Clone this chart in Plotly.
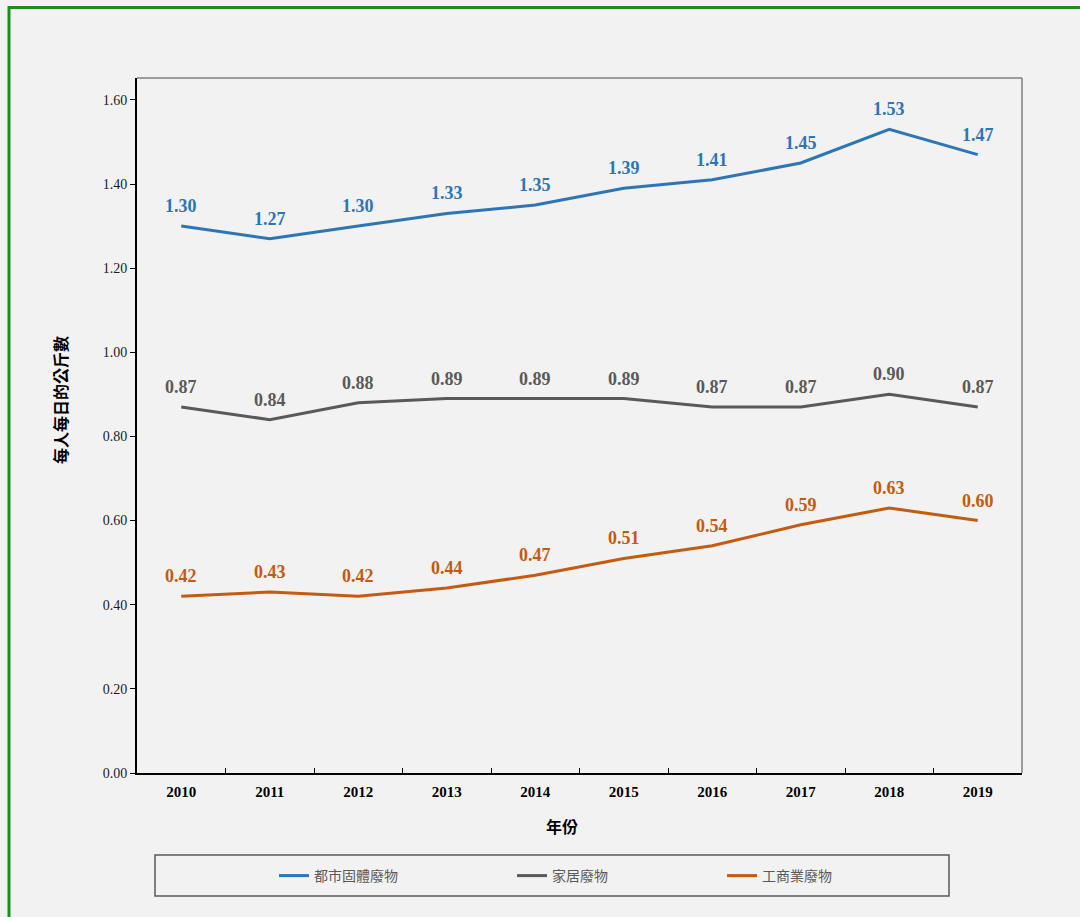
import plotly.graph_objects as go

years = ["2010", "2011", "2012", "2013", "2014", "2015", "2016", "2017", "2018", "2019"]
msw = [1.30, 1.27, 1.30, 1.33, 1.35, 1.39, 1.41, 1.45, 1.53, 1.47]
domestic = [0.87, 0.84, 0.88, 0.89, 0.89, 0.89, 0.87, 0.87, 0.90, 0.87]
commercial = [0.42, 0.43, 0.42, 0.44, 0.47, 0.51, 0.54, 0.59, 0.63, 0.60]
names = ["都市固體廢物", "家居廢物", "工商業廢物"]
colors = ["#2e75b6", "#595959", "#c55a11"]
y_ticks = [0.0, 0.2, 0.4, 0.6, 0.8, 1.0, 1.2, 1.4, 1.6]

W, H = 1080, 917
L, R, T, B = 137, 58, 78, 144
pw, ph = W - L - R, H - T - B

def px(x):
    return (x - L) / pw

def py(y):
    return (H - B - y) / ph

fig = go.Figure()
series = [msw, domestic, commercial]
legends = ["legend", "legend2", "legend3"]
annotations = []
for s, n, c, lg in zip(series, names, colors, legends):
    fig.add_trace(go.Scatter(
        x=years, y=s, name=n, mode="lines",
        line=dict(color=c, width=3),
        legend=lg, cliponaxis=False,
    ))
    for i, yv in enumerate(s):
        annotations.append(dict(
            x=i, y=yv, xref="x", yref="y", text=f"{yv:.2f}", showarrow=False,
            xanchor="center", yanchor="middle", yshift=20,
            font=dict(family="Liberation Serif", size=18, color=c, weight="bold"),
        ))

leg_common = dict(orientation="h", yanchor="middle", xanchor="left",
                  bgcolor="rgba(0,0,0,0)", borderwidth=0,
                  font=dict(family="Noto Sans CJK TC", size=14, color="#595959"))
fig.update_layout(
    width=W, height=H,
    margin=dict(l=L, r=R, t=T, b=B),
    paper_bgcolor="#f2f2f2", plot_bgcolor="#f2f2f2",
    legend=dict(x=px(274), y=py(876), **leg_common),
    legend2=dict(x=px(512), y=py(876), **leg_common),
    legend3=dict(x=px(722), y=py(876), **leg_common),
    xaxis=dict(type="category", categoryorder="array", categoryarray=years,
               range=[-0.5, len(years) - 0.5], autorange=False,
               showgrid=False, showline=True, linecolor="#000000",
               linewidth=2, ticks="inside", tickson="boundaries", ticklen=5,
               tickcolor="#000000", tickwidth=1, tickangle=0, ticklabelstandoff=4,
               tickfont=dict(family="Liberation Serif", size=15, color="#000000", weight="bold")),
    yaxis=dict(range=[0, 1.652], autorange=False, showgrid=False, zeroline=False, showline=True,
               linecolor="#000000", linewidth=2, ticks="outside", ticklen=5,
               tickcolor="#000000", tickwidth=1, tickvals=y_ticks,
               tickformat=".2f",
               tickfont=dict(family="Liberation Serif", size=14, color="#1a1a2e")),
    showlegend=True,
)

shapes = [
    dict(type="line", xref="paper", yref="paper", x0=0, x1=1, y0=1, y1=1,
         line=dict(color="#7f7f7f", width=1.5)),
    dict(type="line", xref="paper", yref="paper", x0=1, x1=1, y0=0, y1=1,
         line=dict(color="#7f7f7f", width=1.5)),
    dict(type="rect", xref="paper", yref="paper", x0=px(155), x1=px(949),
         y0=py(896), y1=py(855), line=dict(color="#595959", width=1.5)),
    dict(type="rect", xref="paper", yref="paper", x0=px(9), x1=px(1095),
         y0=py(935), y1=py(7.5), line=dict(color="#1e8c1e", width=3)),
]

annotations.append(dict(text="每人每日的公斤數", xref="paper", yref="paper",
                        x=px(60), y=py(400), textangle=-90, showarrow=False,
                        xanchor="center", yanchor="middle",
                        font=dict(family="Noto Sans CJK TC", size=16, color="#000000", weight="bold")))
annotations.append(dict(text="年份", xref="paper", yref="paper",
                        x=px(562), y=py(826), showarrow=False,
                        xanchor="center", yanchor="middle",
                        font=dict(family="Noto Sans CJK TC", size=16, color="#000000", weight="bold")))
fig.update_layout(shapes=shapes, annotations=annotations)

fig.write_html("out.html", config={"displayModeBar": False},
               post_script="document.body.style.margin='0px';")
